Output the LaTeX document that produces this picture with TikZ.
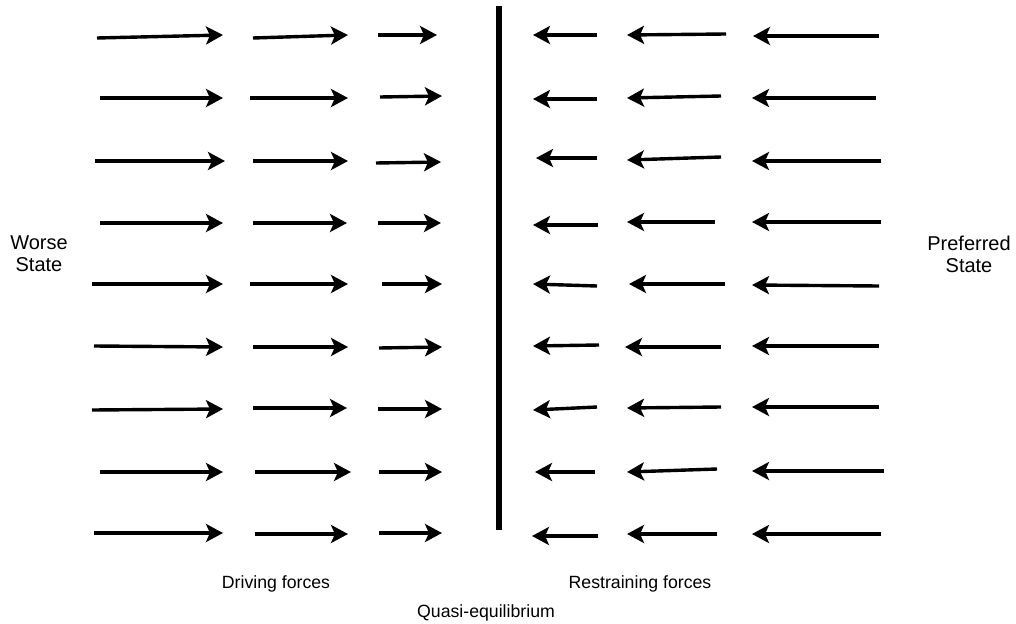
\documentclass[tikz,border=0pt]{standalone}
\usepackage{fontspec}
\setmainfont{Liberation Sans}
\usetikzlibrary{arrows.meta}
\begin{document}
\begin{tikzpicture}[x=1pt,y=-1pt,
  force/.style={line width=3.4pt,-{Stealth[length=17pt,width=18pt,inset=4pt]}},
  lbl/.style={font=\fontsize{17.7pt}{21pt}\selectfont,inner sep=0pt},
  side/.style={font=\fontsize{20pt}{22pt}\selectfont,inner sep=0pt,align=center},
  wall/.style={line width=6pt}]
\useasboundingbox (0,0) rectangle (1016,623);
% driving forces (left, pointing right)
\foreach \n/\xa/\ya/\xb/\yb in {
  a1/97/38/223/35, a2/253/38/348/35, a3/378/35/437/35,
  b1/100/98/223/98, b2/250/98/348/98, b3/380/97/442/96,
  c1/95/161/225/161, c2/253/161/348/161, c3/376/163/441/162,
  d1/100/223/223/223, d2/253/223/347/223, d3/378/223/441/223,
  e1/92/284/223/284, e2/250/284/348/284, e3/382/284/442/284,
  f1/94/346/223/347, f2/253/347/348/347, f3/379/348/442/347,
  g1/92/410/223/409, g2/253/408/347/408, g3/378/409/442/409,
  h1/100/472/223/472, h2/255/472/351/472, h3/379/472/442/472,
  i1/94/533/223/533, i2/255/534/348/534, i3/379/533/442/533}
{
  \coordinate (ds\n) at (\xa,\ya);
  \coordinate (de\n) at (\xb,\yb);
  \draw[force] (ds\n) -- (de\n);
}
% restraining forces (right, pointing left)
\foreach \n/\xa/\ya/\xb/\yb in {
  a1/597/35/533/35, a2/726/34/627/35, a3/879/36/753/36,
  b1/597/99/533/99, b2/721/96/627/98, b3/876/98/752/98,
  c1/597/158/536/158, c2/721/157/627/160, c3/881/161/752/161,
  d1/598/225/533/225, d2/715/222/627/222, d3/881/222/752/222,
  e1/597/286/533/284, e2/725/284/629/284, e3/879/286/752/285,
  f1/599/345/533/346, f2/721/347/625/347, f3/879/346/752/346,
  g1/597/407/533/410, g2/721/407/627/408, g3/879/407/752/407,
  h1/595/472/535/472, h2/717/469/627/472, h3/884/471/752/471,
  i1/598/536/532/536, i2/717/534/627/534, i3/881/534/752/534}
{
  \coordinate (rs\n) at (\xa,\ya);
  \coordinate (re\n) at (\xb,\yb);
  \draw[force] (rs\n) -- (re\n);
}
% equilibrium line
\coordinate (wtop) at (499,6);
\coordinate (wbot) at (499,530);
\draw[wall] (wtop) -- (wbot);
% labels
\node[side] (worse) at (39,254) {Worse\\State};
\node[side] (pref) at (969,254) {Preferred\\State};
\node[lbl,anchor=base] (driving) at (276,588) {Driving forces};
\node[lbl,anchor=base] (restr) at (640,588) {Restraining forces};
\node[lbl,anchor=base] (quasi) at (486,617) {Quasi-equilibrium};
\end{tikzpicture}
\end{document}
